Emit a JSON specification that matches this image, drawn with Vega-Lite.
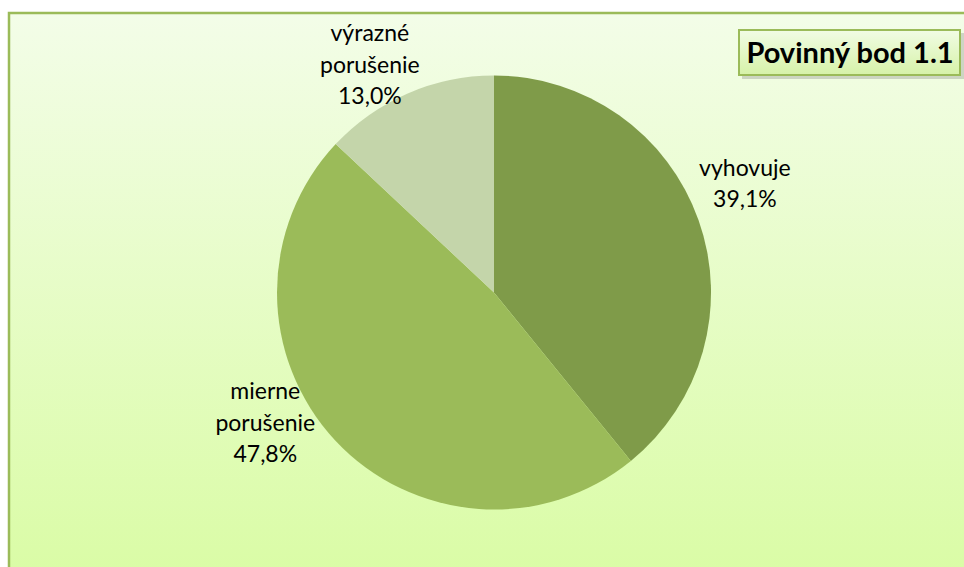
{
  "$schema": "https://vega.github.io/schema/vega-lite/v6.json",
  "autosize": {"type": "none"},
  "width": 970,
  "height": 559,
  "padding": {"left": 9, "top": 13, "right": -15, "bottom": -5},
  "background": "white",
  "config": {"view": {"stroke": null}},
  "data": {
    "values": [
      {"kategoria": "vyhovuje", "podiel": 39.1, "poradie": 1, "popis": "vyhovuje\n39,1%"},
      {"kategoria": "mierne porušenie", "podiel": 47.8, "poradie": 2, "popis": "mierne\nporušenie\n47,8%"},
      {"kategoria": "výrazné porušenie", "podiel": 13.0, "poradie": 3, "popis": "výrazné\nporušenie\n13,0%"}
    ]
  },
  "layer": [
    {
      "data": {"values": [{"pozadie": 1}]},
      "mark": {"type": "rect", "x": 0, "x2": {"expr": "width"}, "y": 0, "y2": {"expr": "height"},
        "fill": {"gradient": "linear", "x1": 0, "y1": 0, "x2": 0, "y2": 1,
          "stops": [{"offset": 0, "color": "#f3fde8"}, {"offset": 1, "color": "#dafca6"}]},
        "stroke": "#9bbb59", "strokeWidth": 2.5},
      "encoding": {}
    },
    {
      "mark": {"type": "arc", "outerRadius": 217, "stroke": null},
      "encoding": {
        "theta": {"field": "podiel", "type": "quantitative", "stack": true},
        "order": {"field": "poradie", "type": "quantitative"},
        "color": {"field": "kategoria", "type": "nominal",
          "scale": {"domain": ["vyhovuje", "mierne porušenie", "výrazné porušenie"],
                    "range": ["#7f9b49", "#9bbb59", "#c4d5aa"]},
          "legend": null}
      }
    },
    {
      "mark": {"type": "text", "radius": 262, "font": "Lato", "fontSize": 23, "lineBreak": "\n", "lineHeight": 31.5, "color": "#000000", "align": "center", "baseline": "middle", "dx": 4, "dy": -36},
      "encoding": {
        "theta": {"field": "podiel", "type": "quantitative", "stack": true},
        "order": {"field": "poradie", "type": "quantitative"},
        "detail": {"field": "kategoria", "type": "nominal"},
        "text": {"condition": {"test": "datum.kategoria === 'vyhovuje'", "field": "popis"}, "value": ""}
      }
    },
    {
      "mark": {"type": "text", "radius": 262, "font": "Lato", "fontSize": 23, "lineBreak": "\n", "lineHeight": 31.5, "color": "#000000", "align": "center", "baseline": "middle", "dx": -37, "dy": -79},
      "encoding": {
        "theta": {"field": "podiel", "type": "quantitative", "stack": true},
        "order": {"field": "poradie", "type": "quantitative"},
        "detail": {"field": "kategoria", "type": "nominal"},
        "text": {"condition": {"test": "datum.kategoria === 'mierne porušenie'", "field": "popis"}, "value": ""}
      }
    },
    {
      "mark": {"type": "text", "radius": 262, "font": "Lato", "fontSize": 23, "lineBreak": "\n", "lineHeight": 31.5, "color": "#000000", "align": "center", "baseline": "middle", "dx": -20, "dy": -18},
      "encoding": {
        "theta": {"field": "podiel", "type": "quantitative", "stack": true},
        "order": {"field": "poradie", "type": "quantitative"},
        "detail": {"field": "kategoria", "type": "nominal"},
        "text": {"condition": {"test": "datum.kategoria === 'výrazné porušenie'", "field": "popis"}, "value": ""}
      }
    },
    {
      "data": {"values": [{"nazov": "Povinný bod 1.1"}]},
      "layer": [
        {
          "mark": {"type": "rect", "x": {"expr": "width-237"}, "x2": {"expr": "width-15"}, "y": 20, "y2": 66, "fill": "#7a7a7a", "opacity": 0.3},
          "encoding": {}
        },
        {
          "mark": {"type": "rect", "x": {"expr": "width-240"}, "x2": {"expr": "width-19"}, "y": 17, "y2": 62,
            "fill": {"gradient": "linear", "x1": 0, "y1": 0, "x2": 0, "y2": 1,
              "stops": [{"offset": 0, "color": "#f1fce4"}, {"offset": 1, "color": "#d6f2a8"}]},
            "stroke": "#9bbb59", "strokeWidth": 2},
          "encoding": {}
        },
        {
          "mark": {"type": "text", "x": {"expr": "width-129"}, "y": 50, "align": "center", "baseline": "alphabetic", "font": "Lato", "fontWeight": "bold", "fontSize": 29, "color": "#000000"},
          "encoding": {"text": {"field": "nazov", "type": "nominal"}}
        }
      ]
    }
  ]
}
